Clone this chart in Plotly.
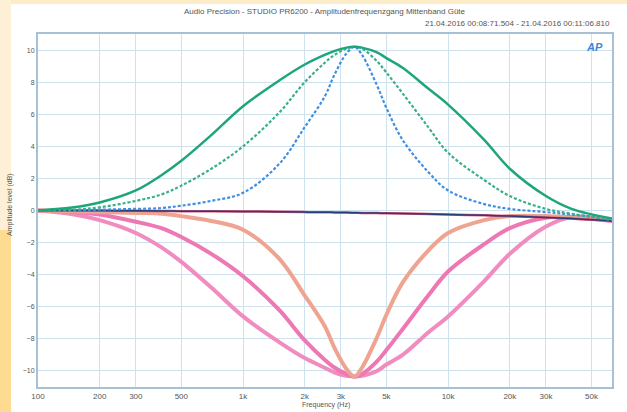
import plotly.graph_objects as go

freq = [100, 150, 200, 300, 400, 500, 700, 1000, 1500, 2000, 2500, 2800, 3200, 3500,
        3800, 4500, 5000, 6000, 8000, 10000, 15000, 20000, 30000, 40000, 63000]

green_wide = [0, 0.2, 0.5, 1.25, 2.2, 3.1, 4.7, 6.5, 8.1, 9.1, 9.7, 9.95, 10.15, 10.2,
              10.15, 9.85, 9.5, 8.9, 7.6, 6.6, 4.4, 2.6, 0.9, 0.1, -0.5]
green_mid = [0, 0.05, 0.2, 0.6, 1.0, 1.55, 2.6, 4.0, 6.1, 8.0, 9.2, 9.7, 10.1, 10.2,
             10.1, 9.3, 8.6, 7.3, 5.2, 3.6, 1.9, 0.9, 0.1, -0.2, -0.6]
blue_narrow = [0, 0, 0.05, 0.1, 0.15, 0.3, 0.6, 1.1, 2.9, 5.2, 7.1, 8.5, 9.8, 10.2,
               9.7, 7.8, 6.4, 4.4, 2.4, 1.25, 0.4, 0.1, -0.1, -0.25, -0.5]
pink_wide = [0, -0.25, -0.6, -1.4, -2.3, -3.2, -4.8, -6.6, -8.2, -9.2, -9.8, -10.1, -10.3, -10.35,
             -10.3, -10.0, -9.6, -9.0, -7.6, -6.6, -4.4, -2.7, -1.0, -0.4, -0.6]
pink_mid = [0, -0.1, -0.25, -0.7, -1.1, -1.65, -2.7, -4.1, -6.2, -8.1, -9.3, -9.8, -10.2, -10.35,
            -10.2, -9.4, -8.7, -7.4, -5.3, -3.8, -2.1, -1.1, -0.45, -0.4, -0.65]
salmon_narrow = [0, -0.05, -0.1, -0.15, -0.2, -0.35, -0.65, -1.2, -3.0, -5.3, -7.2, -8.6, -9.9, -10.35,
                 -9.8, -7.9, -6.5, -4.5, -2.5, -1.4, -0.6, -0.35, -0.35, -0.45, -0.6]
flat_line = [0, 0, 0, -0.02, -0.03, -0.04, -0.05, -0.06, -0.08, -0.1, -0.11, -0.12, -0.13, -0.14,
             -0.15, -0.16, -0.17, -0.19, -0.22, -0.25, -0.3, -0.35, -0.43, -0.5, -0.65]

x_tickvals = [100, 200, 300, 500, 1000, 2000, 3000, 5000, 10000, 20000, 30000, 50000]
x_ticktext = ["100", "200", "300", "500", "1k", "2k", "3k", "5k", "10k", "20k", "30k", "50k"]
y_tickvals = [-10, -8, -6, -4, -2, 0, 2, 4, 6, 8, 10]

fig = go.Figure()

def add(y, color, width, dash="solid"):
    fig.add_trace(go.Scatter(x=freq, y=y, mode="lines",
                             line=dict(color=color, width=width, dash=dash,
                                       shape="spline", smoothing=1.0),
                             hoverinfo="skip", showlegend=False))

add(pink_wide, "#f08cc0", 4)
add(pink_mid, "#ee78b4", 4)
add(salmon_narrow, "#eea490", 4)
add(flat_line, "#d85070", 2.5)
add(flat_line, "#2c3c78", 1.5)
add(blue_narrow, "#3f8fe0", 2.2, "3px,2px")
add(green_mid, "#38b088", 2.2, "3px,2px")
add(green_wide, "#1fa57a", 2.5)

def px2x(p):
    return (p - 38) / 574

def px2y(p):
    return (387 - p) / 353

shapes = [
    dict(type="rect", xref="paper", yref="paper", x0=px2x(0), x1=px2x(627),
         y0=px2y(4), y1=px2y(0), fillcolor="#fcecc8", line=dict(width=0), layer="below"),
    dict(type="rect", xref="paper", yref="paper", x0=px2x(0), x1=px2x(11),
         y0=px2y(230), y1=px2y(0), fillcolor="#fdf0d6", line=dict(width=0), layer="below"),
    dict(type="rect", xref="paper", yref="paper", x0=px2x(0), x1=px2x(11),
         y0=px2y(412), y1=px2y(230), fillcolor="#fddc92", line=dict(width=0), layer="below"),
]

annotations = [
    dict(text="Audio Precision - STUDIO PR6200 - Amplitudenfrequenzgang Mittenband Güte",
         xref="paper", yref="paper", x=px2x(325), y=px2y(11), xanchor="center", yanchor="middle",
         showarrow=False, font=dict(size=8, color="#555")),
    dict(text="21.04.2016 00:08:71.504 - 21.04.2016 00:11:06.810",
         xref="paper", yref="paper", x=1.0, y=px2y(23), xanchor="right", yanchor="middle",
         showarrow=False, font=dict(size=8, color="#555")),
    dict(text="<b><i>AP</i></b>", xref="paper", yref="paper", x=px2x(594), y=px2y(47),
         xanchor="center", yanchor="middle", showarrow=False,
         font=dict(size=11, color="#3a86d6")),
    dict(text="Frequency (Hz)", xref="paper", yref="paper", x=px2x(326), y=px2y(405),
         xanchor="center", yanchor="middle", showarrow=False, font=dict(size=7, color="#555")),
    dict(text="Amplitude level (dB)", xref="paper", yref="paper", x=px2x(10), y=px2y(205),
         xanchor="center", yanchor="middle", showarrow=False, textangle=-90,
         font=dict(size=7, color="#555")),
]

fig.update_layout(
    width=627, height=412,
    margin=dict(l=38, r=15, t=34, b=25),
    paper_bgcolor="white", plot_bgcolor="white",
    font=dict(family="Liberation Sans, Arial, sans-serif", size=8, color="#555"),
    shapes=shapes, annotations=annotations,
    xaxis=dict(type="log", range=[2, 4.7993], tickvals=x_tickvals, ticktext=x_ticktext,
               showgrid=True, gridcolor="#cfe2f0", gridwidth=1,
               showline=True, linecolor="#a8c0d4", linewidth=2, mirror=True,
               ticks="", tickfont=dict(size=8, color="#555"), zeroline=False),
    yaxis=dict(range=[-11, 11], tickvals=y_tickvals,
               showgrid=True, gridcolor="#cfe2f0", gridwidth=1,
               showline=True, linecolor="#a8c0d4", linewidth=2, mirror=True,
               ticks="", tickfont=dict(size=7, color="#555"), zeroline=False),
)

fig.write_html("out.html",
               config={"displayModeBar": False},
               post_script="document.body.style.margin='0';document.body.style.padding='0';"
                           "document.body.style.overflow='hidden';")
